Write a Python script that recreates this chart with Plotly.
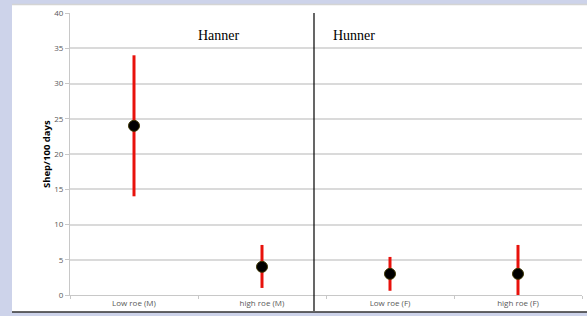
import plotly.graph_objects as go

categories = ["Low roe (M)", "high roe (M)", "Low roe (F)", "high roe (F)"]
means = [24, 4, 3, 3]
upper = [34, 7.1, 5.4, 7.1]
lower = [14, 1.0, 0.6, 0.0]
panel_labels = ["Hanner", "Hunner"]
y_title = "Shep/100 days"
y_ticks = [0, 5, 10, 15, 20, 25, 30, 35, 40]

err_plus = [u - m for u, m in zip(upper, means)]
err_minus = [m - l for m, l in zip(means, lower)]

fig = go.Figure()
fig.add_trace(go.Scatter(
    x=categories, y=means, mode="markers",
    marker=dict(color="black", size=11, line=dict(color="#3b3300", width=1)),
    error_y=dict(type="data", symmetric=False, array=err_plus, arrayminus=err_minus,
                 color="#e8120c", thickness=3, width=0),
    showlegend=False,
))

W, H = 587, 316
L, R, T, B = 70, 5, 13, 21
pw, ph = W - L - R, H - T - B

def px(x):
    return (x - L) / pw

def py(y):
    return (H - B - y) / ph

shapes = [
    dict(type="rect", xref="paper", yref="paper", x0=px(12), x1=px(590), y0=py(312), y1=py(4),
         fillcolor="white", line=dict(width=0), layer="below"),
    dict(type="line", xref="paper", yref="paper", x0=px(12), x1=px(590), y0=py(4.5), y1=py(4.5),
         line=dict(color="#d4d4d4", width=1.5), layer="below"),
    dict(type="line", xref="paper", yref="paper", x0=px(12), x1=px(590), y0=py(312), y1=py(312),
         line=dict(color="#333333", width=1.5)),
    dict(type="line", xref="paper", yref="paper", x0=px(314), x1=px(314), y0=py(311), y1=1,
         line=dict(color="black", width=1.2)),
]

annotations = [
    dict(text=panel_labels[0], xref="paper", yref="paper", x=px(196), y=py(35),
         xanchor="left", yanchor="middle", showarrow=False,
         font=dict(family="Liberation Serif", size=14, color="black")),
    dict(text=panel_labels[1], xref="paper", yref="paper", x=px(331), y=py(35),
         xanchor="left", yanchor="middle", showarrow=False,
         font=dict(family="Liberation Serif", size=14, color="black")),
    dict(text="<b>" + y_title + "</b>", xref="paper", yref="paper", x=px(46), y=py(154),
         xanchor="center", yanchor="middle", showarrow=False, textangle=-90,
         font=dict(family="Open Sans", size=9.5, color="black")),
]

fig.update_layout(
    width=W, height=H,
    margin=dict(l=L, r=R, t=T, b=B),
    paper_bgcolor="#cdd3ea",
    plot_bgcolor="white",
    shapes=shapes,
    annotations=annotations,
    font=dict(family="Open Sans", size=8, color="#595959"),
    xaxis=dict(
        type="category", categoryorder="array", categoryarray=categories,
        range=[-0.5, 3.5], showgrid=False, showline=True, linecolor="#c8c8c8", linewidth=1,
        ticks="outside", ticklen=3, tickcolor="#c8c8c8", tickson="boundaries",
        tickfont=dict(size=8, color="#595959"), zeroline=False, automargin=False,
    ),
    yaxis=dict(
        range=[0, 40], tickvals=y_ticks, showgrid=True, gridcolor="#dadada", gridwidth=1.5,
        showline=True, linecolor="#c8c8c8", linewidth=1, ticks="outside", ticklen=4,
        tickcolor="#c8c8c8", zeroline=False, automargin=False,
        tickfont=dict(size=8, color="#595959"),
    ),
)

fig.write_html("out.html", config={"displayModeBar": False},
               post_script="document.body.style.margin='0';document.body.style.overflow='hidden';")
